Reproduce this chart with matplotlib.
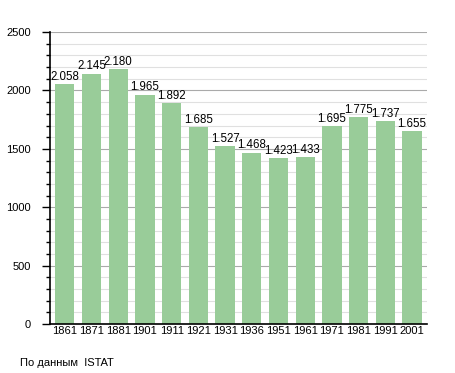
import matplotlib
matplotlib.use("Agg")
import matplotlib.pyplot as plt
from matplotlib.ticker import MultipleLocator

# ── Data ───────────────────────────────────────────────────────────────────
years = ["1861", "1871", "1881", "1901", "1911", "1921", "1931",
         "1936", "1951", "1961", "1971", "1981", "1991", "2001"]
population = [2058, 2145, 2180, 1965, 1892, 1685, 1527,
              1468, 1423, 1433, 1695, 1775, 1737, 1655]
labels = ["2.058", "2.145", "2.180", "1.965", "1.892", "1.685", "1.527",
          "1.468", "1.423", "1.433", "1.695", "1.775", "1.737", "1.655"]

plt.rcParams.update({"font.family": ["Liberation Sans", "DejaVu Sans"],
                     "font.size": 8})

fig = plt.figure(figsize=(4.55, 3.73), dpi=100)
ax = fig.add_axes([0.11, 0.131, 0.828, 0.783])

x = range(len(years))
bars = ax.bar(x, population, width=0.72, color="#99cc99", zorder=2)
for xi, v, lab in zip(x, population, labels):
    ax.text(xi, v + 10, lab, ha="center", va="bottom", fontsize=8.3, zorder=3)

ax.set_xlim(-0.55, len(years) - 0.45)
ax.set_ylim(0, 2500)
ax.set_xticks(list(x))
ax.set_xticklabels(years)
ax.yaxis.set_major_locator(MultipleLocator(500))
ax.yaxis.set_minor_locator(MultipleLocator(100))
ax.grid(axis="y", which="major", color="#aaaaaa", linewidth=0.8, zorder=0)
ax.grid(axis="y", which="minor", color="#e0e0e0", linewidth=0.8, zorder=0)

ax.spines[["top", "right"]].set_visible(False)
ax.spines["left"].set_linewidth(1.2)
ax.spines["bottom"].set_linewidth(1.2)
ax.tick_params(axis="x", length=0, pad=1)
ax.tick_params(axis="y", which="major", length=6, width=1, pad=8)
ax.tick_params(axis="y", which="minor", length=3, width=1)

fig.text(0.045, 0.02, "По данным  ISTAT", fontsize=8)

plt.savefig("out.png", dpi=100)
plt.close()
